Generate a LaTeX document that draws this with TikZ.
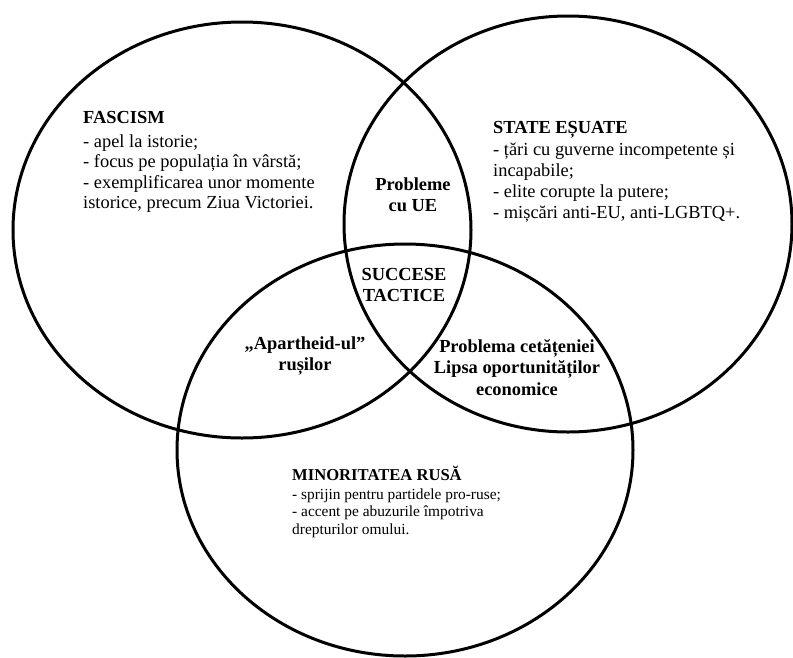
\documentclass[tikz,border=0pt]{standalone}
\usepackage{fontspec}
\setmainfont{Liberation Serif}
\begin{document}
\begin{tikzpicture}[x=1pt,y=-1pt,
  ring/.style={line width=3pt},
  body/.style={inner sep=0pt, align=left, font=\fontsize{18.4}{20.6}\selectfont},
  lens/.style={inner sep=0pt, align=center, font=\fontsize{18.4}{20.6}\selectfont\bfseries},
  small/.style={inner sep=0pt, align=left, font=\fontsize{15.4}{17.5}\selectfont}]
\useasboundingbox (0,0) rectangle (793,657);
\draw[ring] (242,230) ellipse [x radius=229pt, y radius=208pt];
\draw[ring] (568,224) ellipse [x radius=224pt, y radius=208pt];
\draw[ring] (405,450) ellipse [x radius=228pt, y radius=206pt];

% base anchor of a multi-line node = baseline of its last line
\node[body, anchor=base west] (fascism) at (83,208.9)
  {\textbf{FASCISM}\\[3.5pt]- apel la istorie;\\- focus pe populația în vârstă;\\- exemplificarea unor momente\\istorice, precum Ziua Victoriei.};
\node[body, anchor=base west, font=\fontsize{18.4}{21.2}\selectfont] (state) at (493,218.6)
  {\textbf{STATE EȘUATE}\\[0.8pt]- țări cu guverne incompetente și\\incapabile;\\- elite corupte la putere;\\- mișcări anti-EU, anti-LGBTQ+.};
\node[lens, anchor=base] (ue) at (413,211) {Probleme\\cu UE};
\node[lens, anchor=base] (succese) at (404,301) {SUCCESE\\TACTICE};
\node[lens, anchor=base] (apart) at (305,370) {„Apartheid-ul”\\rușilor};
\node[lens, anchor=base, font=\fontsize{18.4}{21.5}\selectfont\bfseries] (cetat) at (517,395)
  {Problema cetățeniei\\Lipsa oportunităților\\economice};
\node[inner sep=0pt, anchor=base west, font=\fontsize{16.6}{17.5}\selectfont\bfseries] (minor) at (292,480) {MINORITATEA RUSĂ};
\node[small, anchor=base west] (minorbody) at (292,534)
  {- sprijin pentru partidele pro-ruse;\\- accent pe abuzurile împotriva\\drepturilor omului.};
\end{tikzpicture}
\end{document}
